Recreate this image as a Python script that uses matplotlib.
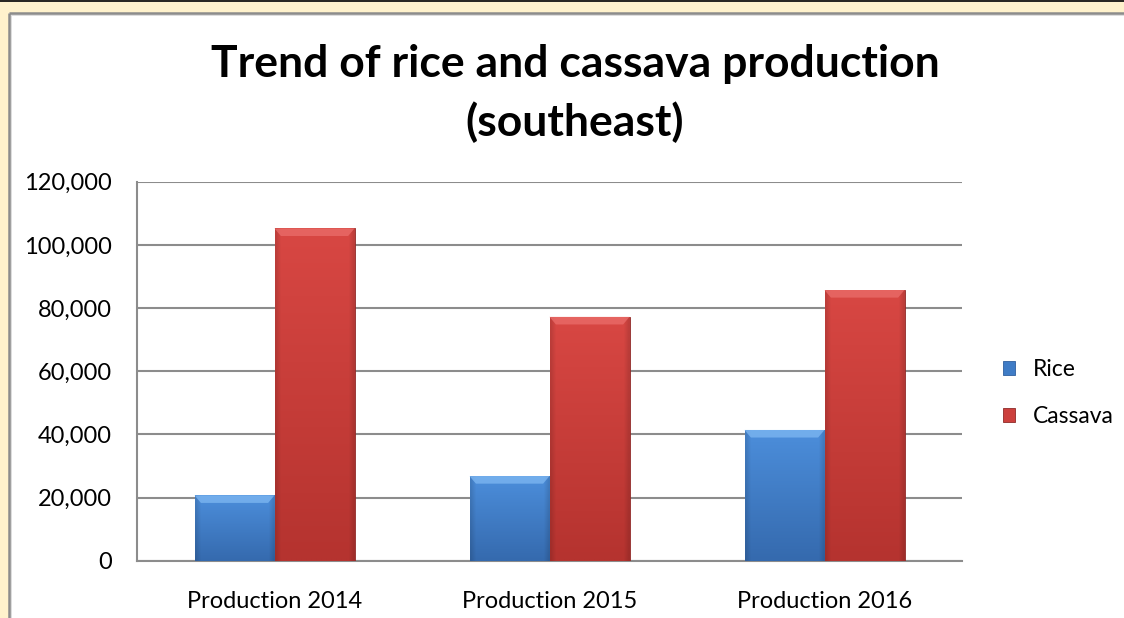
import matplotlib
matplotlib.use("Agg")
import matplotlib.pyplot as plt
import numpy as np
from matplotlib.patches import Rectangle, Polygon
from matplotlib.colors import to_rgb

categories = ["Production 2014", "Production 2015", "Production 2016"]
rice = [20700, 26800, 41400]
cassava = [105200, 77200, 85700]
series_names = ["Rice", "Cassava"]
yticks = [0, 20000, 40000, 60000, 80000, 100000, 120000]
title_lines = ["Trend of rice and cassava production", "(southeast)"]

plt.rcParams["font.family"] = ["Lato", "DejaVu Sans"]

W, H = 1124, 618
fig = plt.figure(figsize=(W / 100, H / 100), dpi=100)
fig.patch.set_facecolor("#FFF2CC")

# background layer: white chart panel with grey frame on left/top, black rule on top
bg = fig.add_axes([0, 0, 1, 1], zorder=-5)
bg.set_xlim(0, W)
bg.set_ylim(H, 0)
bg.set_autoscale_on(False)
bg.axis("off")
bg.add_patch(Rectangle((9, 13), W, H, facecolor="white", edgecolor="none"))
bg.add_patch(Rectangle((10, 14), W, 2, facecolor="#DDDDDD", edgecolor="none"))
bg.add_patch(Rectangle((10, 14), 2, H, facecolor="#DDDDDD", edgecolor="none"))
bg.plot([8.5, W], [12.5, 12.5], color="#8C8C8C", lw=1.8, solid_capstyle="butt")
bg.plot([8.5, 8.5], [12.5, H], color="#8C8C8C", lw=1.8, solid_capstyle="butt")
bg.plot([0, W], [0.5, 0.5], color="black", lw=1.2)

ax = fig.add_axes([137 / W, 1 - 560.7 / H, (962 - 137) / W, (560.7 - 181.7) / H])
ax.set_facecolor("none")
ax.set_xlim(-0.5, 2.5)
ax.set_ylim(0, 120000)

x = np.arange(len(categories))
w = 80 / 275
styles = [
    dict(color="#3F7CC6", light="#4C8EDB", dark="#356AAE", bevel="#7FB8F2", edge="#2F5F9E"),
    dict(color="#CC403D", light="#D84743", dark="#B5332F", bevel="#EA6E6B", edge="#8E2A28"),
]


def shade_bar(rect, st):
    """Fill a bar with a soft vertical gradient and a bevelled top."""
    x0, wd, ht = rect.get_x(), rect.get_width(), rect.get_height()
    c_top, c_bot = np.array(to_rgb(st["light"])), np.array(to_rgb(st["dark"]))
    t = np.linspace(0, 1, 64)[:, None]
    grad = (c_bot * (1 - t) + c_top * t)[:, None, :]
    u = np.linspace(-1, 1, 32)
    side = 1 - 0.12 * np.clip(np.abs(u) * 8 - 7, 0, 1)
    img = grad * side[None, :, None]
    im = ax.imshow(img, extent=(x0, x0 + wd, 0, ht), origin="lower",
                   aspect="auto", zorder=3.5, interpolation="bilinear")
    im.set_clip_path(rect)
    bh = 2400
    dx = wd * 0.08
    ax.add_patch(Polygon([(x0, ht), (x0 + wd, ht), (x0 + wd - dx, ht - bh), (x0 + dx, ht - bh)],
                         closed=True, facecolor=st["bevel"], edgecolor="none",
                         alpha=0.75, zorder=4))


for vals, offs, name, st in ((rice, -w / 2, series_names[0], styles[0]),
                             (cassava, w / 2, series_names[1], styles[1])):
    bars = ax.bar(x + offs, vals, width=w, color=st["color"], edgecolor=st["edge"],
                  linewidth=0.6, zorder=3, label=name)
    for r in bars:
        shade_bar(r, st)

ax.set_xlim(-0.5, 2.5)
ax.set_ylim(0, 120000)
ax.set_yticks(yticks)
ax.set_yticklabels([f"{v:,}" for v in yticks])
ax.set_xticks(x)
ax.set_xticklabels(categories)
ax.tick_params(axis="both", length=0, labelsize=17, colors="black")
ax.tick_params(axis="y", pad=18)
ax.tick_params(axis="x", pad=22)
ax.yaxis.grid(True, color="#8C8C8C", linewidth=1.5, zorder=1)
ax.set_axisbelow(True)
for s in ("top", "right"):
    ax.spines[s].set_visible(False)
for s in ("left", "bottom"):
    ax.spines[s].set_color("#8C8C8C")
    ax.spines[s].set_linewidth(1.5)

# two-line title, each line placed on its own baseline
for line, base in zip(title_lines, (77, 136)):
    fig.text(575 / W, 1 - base / H, line, ha="center", va="baseline",
             fontsize=32, fontweight="bold")

leg = ax.legend(loc="center left", bbox_to_anchor=(982 / W, 1 - 393 / H),
                bbox_transform=fig.transFigure, frameon=False, fontsize=16.5,
                handlelength=0.55, handleheight=0.55, labelspacing=1.15, handletextpad=0.75)

fig.savefig("out.png", dpi=100, facecolor=fig.get_facecolor())
